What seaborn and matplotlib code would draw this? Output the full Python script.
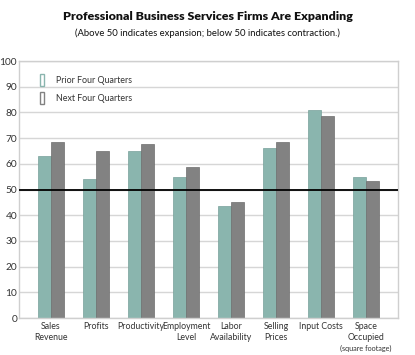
import numpy as np
import pandas as pd
import matplotlib.pyplot as plt
import seaborn as sns
from matplotlib.patches import Patch

# chart data
categories = ['Sales\nRevenue', 'Profits', 'Productivity', 'Employment\nLevel',
              'Labor\nAvailability', 'Selling\nPrices', 'Input Costs', 'Space\nOccupied']
prior_four = [63, 54, 65, 55, 43.7, 66, 81, 55]
next_four = [68.7, 65, 67.6, 58.6, 45, 68.6, 78.8, 53.2]
series = ['Prior Four Quarters', 'Next Four Quarters']

df = pd.DataFrame({
    'Category': categories * 2,
    'Value': prior_four + next_four,
    'Series': [series[0]] * len(categories) + [series[1]] * len(categories),
})

sns.set_style('white')
plt.rcParams['font.family'] = ['Lato', 'DejaVu Sans']

teal = '#8ab5ae'
grey = '#828282'
txt = '#333333'

fig = plt.figure(figsize=(4.15, 3.55), dpi=100)
ax = fig.add_axes([0.046, 0.104, 0.913, 0.724])

sns.barplot(data=df, x='Category', y='Value', hue='Series', palette=[teal, grey],
            saturation=1, width=0.58, ax=ax, legend=False,
            edgecolor='#77a09a', linewidth=0.5)
for p in ax.containers[1]:
    p.set_edgecolor('#6e6e6e')

ax.set_ylim(0, 100)
ax.set_xlim(-0.71, 7.71)
ax.set_yticks(range(0, 101, 10))
ax.yaxis.grid(True, color='#d6d6d6', linewidth=1)
ax.set_axisbelow(True)
ax.axhline(50, color='black', linewidth=1.3, zorder=3)

for s in ax.spines.values():
    s.set_color('#cfcfcf')
    s.set_linewidth(1)

ax.tick_params(axis='both', length=0, labelsize=6.3, pad=3, labelcolor=txt)
ax.tick_params(axis='y', labelsize=7.3, pad=1.5)
ax.set_xlabel('')
ax.set_ylabel('')
ax.text(7, -10.3, '(square footage)', ha='center', va='top', fontsize=5.2, color=txt)

handles = [Patch(facecolor='white', edgecolor=teal, linewidth=1),
           Patch(facecolor='white', edgecolor=grey, linewidth=1)]
ax.legend(handles, series, loc='upper left', bbox_to_anchor=(0.035, 0.98),
          frameon=False, fontsize=6.4, handlelength=0.45, handleheight=1.7,
          labelspacing=0.7, handletextpad=1.3, labelcolor=txt)

fig.text(0.5, 0.953, 'Professional Business Services Firms Are Expanding',
         ha='center', va='center', fontsize=8.9, fontweight='heavy', color='#111111')
fig.text(0.5, 0.906, '(Above 50 indicates expansion; below 50 indicates contraction.)',
         ha='center', va='center', fontsize=6.8, color='#111111')

plt.savefig('out.png', dpi=100)
